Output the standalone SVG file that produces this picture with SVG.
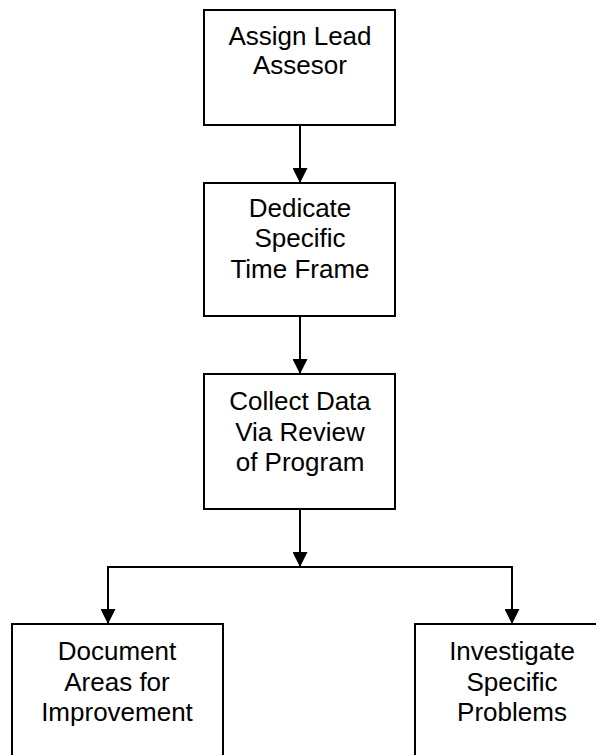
<svg xmlns="http://www.w3.org/2000/svg" width="596" height="755" viewBox="0 0 596 755">
  <style>
    .box { fill: #ffffff; stroke: #000000; stroke-width: 2; }
    .lbl { font-family: "Liberation Sans", Arial, sans-serif; font-size: 26px; fill: #000000; text-anchor: middle; }
    .wire { fill: none; stroke: #000000; stroke-width: 2; }
  </style>
  <defs>
    <marker id="arrow" viewBox="0 0 15 15" refX="15" refY="7.5" markerWidth="15" markerHeight="15" markerUnits="userSpaceOnUse" orient="auto">
      <path d="M0,0 L15,7.5 L0,15 Z" fill="#000000"/>
    </marker>
  </defs>
  <rect x="0" y="0" width="596" height="755" fill="#ffffff"/>

  <g id="connectors">
    <line class="wire" x1="300" y1="125" x2="300" y2="183" marker-end="url(#arrow)"/>
    <line class="wire" x1="300" y1="316" x2="300" y2="374" marker-end="url(#arrow)"/>
    <line class="wire" x1="300" y1="509" x2="300" y2="567" marker-end="url(#arrow)"/>
    <polyline class="wire" points="108,624 108,567 512,567 512,624"/>
    <line class="wire" x1="108" y1="567" x2="108" y2="624" marker-end="url(#arrow)"/>
    <line class="wire" x1="512" y1="567" x2="512" y2="624" marker-end="url(#arrow)"/>
  </g>

  <g id="assign-lead">
    <rect class="box" x="204" y="10" width="191" height="115"/>
    <text class="lbl" x="300" y="45">Assign Lead</text>
    <text class="lbl" x="300" y="74">Assesor</text>
  </g>

  <g id="dedicate-time">
    <rect class="box" x="204" y="183" width="191" height="133"/>
    <text class="lbl" x="300" y="217">Dedicate</text>
    <text class="lbl" x="300" y="247">Specific</text>
    <text class="lbl" x="300" y="278">Time Frame</text>
  </g>

  <g id="collect-data">
    <rect class="box" x="204" y="374" width="191" height="135"/>
    <text class="lbl" x="300" y="410">Collect Data</text>
    <text class="lbl" x="300" y="441">Via Review</text>
    <text class="lbl" x="300" y="471">of Program</text>
  </g>

  <g id="document-areas">
    <rect class="box" x="12" y="624" width="211" height="150"/>
    <text class="lbl" x="117" y="660">Document</text>
    <text class="lbl" x="117" y="691">Areas for</text>
    <text class="lbl" x="117" y="721">Improvement</text>
  </g>

  <g id="investigate-problems">
    <rect class="box" x="415" y="624" width="200" height="150"/>
    <text class="lbl" x="512" y="660">Investigate</text>
    <text class="lbl" x="512" y="691">Specific</text>
    <text class="lbl" x="512" y="721">Problems</text>
  </g>
</svg>
